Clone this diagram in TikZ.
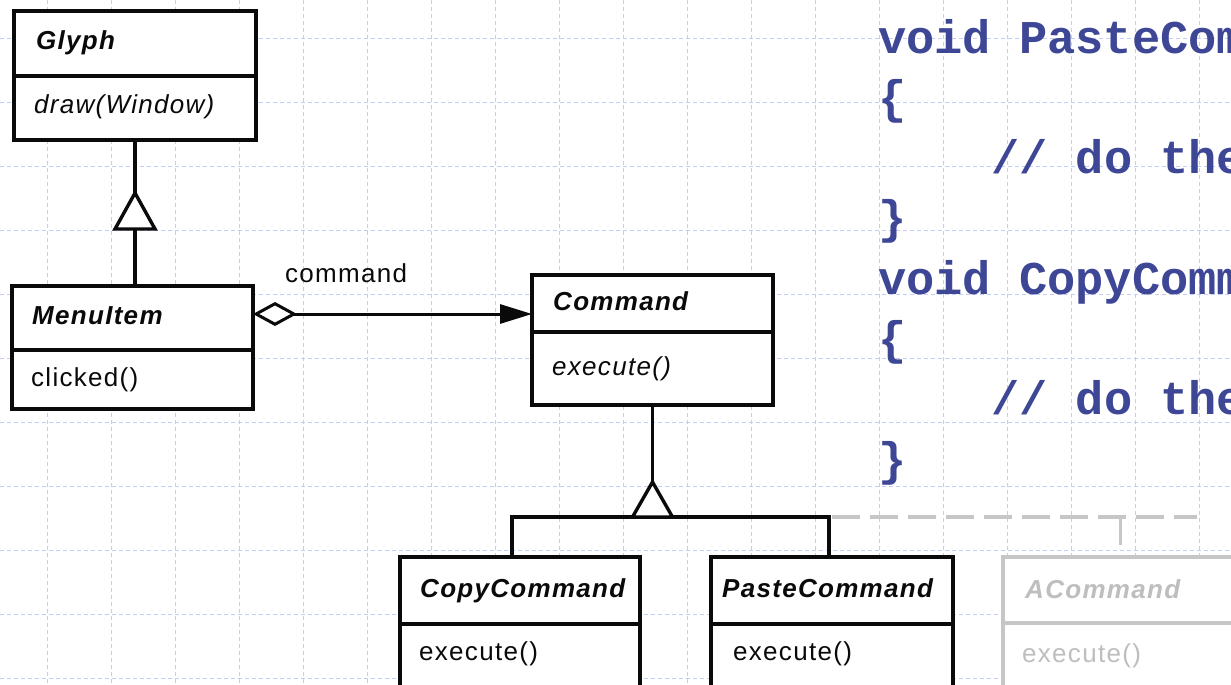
\documentclass[tikz,border=0pt]{standalone}
\usepackage{fontspec}
\usetikzlibrary{arrows.meta}
\newfontfamily\umlfont{Liberation Sans}[LetterSpace=5]
\newfontfamily\codefont{Liberation Mono}
\definecolor{gridblue}{RGB}{196,204,250}
\definecolor{codeblue}{RGB}{62,70,150}
\definecolor{ghostline}{RGB}{198,198,198}
\definecolor{ghosttext}{RGB}{190,190,190}
\definecolor{ink}{RGB}{10,10,10}

\begin{document}
\begin{tikzpicture}[x=1pt,y=-1pt,
  gridline/.style={draw=gridblue,line width=0.9pt,dash pattern=on 4pt off 3pt},
  classbox/.style={draw=ink,line width=3.4pt,fill=white,rectangle,anchor=north west,
    inner sep=0pt,outer sep=0pt},
  ghostbox/.style={classbox,draw=ghostline},
  divider/.style={draw=ink,line width=3.4pt},
  ghostdivider/.style={draw=ghostline,line width=3.4pt},
  umltext/.style={anchor=base west,inner sep=0pt,text=ink,
    font=\umlfont\fontsize{26}{30}\selectfont},
  classname/.style={umltext,font=\umlfont\fontsize{26}{30}\selectfont\bfseries\itshape},
  absop/.style={umltext,font=\umlfont\fontsize{26}{30}\selectfont\itshape},
  ghostname/.style={classname,text=ghosttext},
  ghostop/.style={umltext,text=ghosttext},
  codeline/.style={anchor=base west,inner sep=0pt,text=codeblue,
    font=\codefont\bfseries\fontsize{47}{56}\selectfont},
  link/.style={draw=ink,line width=3.4pt},
  generalize/.style={draw=ink,line width=3.4pt,fill=white,line join=miter},
  assoc/.style={draw=ink,line width=3pt,
    {Diamond[open,length=44pt,width=24pt]}-{Triangle[length=32pt,width=19pt]}},
  ghostdash/.style={draw=ghostline,line width=4pt,dash pattern=on 28pt off 10pt}
]
\useasboundingbox (0,0) rectangle (1231,685);
\clip (0,0) rectangle (1231,685);
\fill[white] (0,0) rectangle (1231,685);

% background grid
\foreach \gx in {47,111,...,1199}
  \draw[gridline] (\gx,0) -- (\gx,685);
\foreach \gy in {38,102,...,678}
  \draw[gridline] (0,\gy) -- (1231,\gy);

% code listing
\node[codeline] (code1) at (878,53)    {void PasteCom};
\node[codeline] (code2) at (878,113.3) {\{};
\node[codeline] (code3) at (991,173.6) {// do the};
\node[codeline] (code4) at (878,233.9) {\}};
\node[codeline] (code5) at (878,294.2) {void CopyComm};
\node[codeline] (code6) at (878,354.5) {\{};
\node[codeline] (code7) at (991,414.8) {// do the};
\node[codeline] (code8) at (878,475)   {\}};

% class boxes
\node[classbox,minimum width=242pt,minimum height=129pt] (glyph) at (14,11) {};
\node[classbox,minimum width=241pt,minimum height=123pt] (menuitem) at (12,286) {};
\node[classbox,minimum width=241pt,minimum height=130pt] (command) at (532,275) {};
\node[classbox,minimum width=240pt,minimum height=140pt] (copycmd) at (400,557) {};
\node[classbox,minimum width=242pt,minimum height=140pt] (pastecmd) at (711,557) {};
\node[ghostbox,minimum width=260pt,minimum height=140pt] (acmd) at (1003,557) {};

% compartment dividers
\draw[divider] ([yshift=-65pt]glyph.north west) -- ([yshift=-65pt]glyph.north east);
\draw[divider] ([yshift=-64pt]menuitem.north west) -- ([yshift=-64pt]menuitem.north east);
\draw[divider] ([yshift=-57pt]command.north west) -- ([yshift=-57pt]command.north east);
\draw[divider] ([yshift=-67pt]copycmd.north west) -- ([yshift=-67pt]copycmd.north east);
\draw[divider] ([yshift=-67pt]pastecmd.north west) -- ([yshift=-67pt]pastecmd.north east);
\draw[ghostdivider] ([yshift=-66pt]acmd.north west) -- ([yshift=-66pt]acmd.north east);

% class names and operations
\node[classname] (glyph-name) at (36,50) {Glyph};
\node[absop] (glyph-op) at (34,113) {draw(Window)};
\node[classname] (menuitem-name) at (32,324) {MenuItem};
\node[umltext] (menuitem-op) at (31,386) {clicked()};
\node[classname] (command-name) at (553,310) {Command};
\node[absop] (command-op) at (552,375) {execute()};
\node[classname] (copycmd-name) at (420,597) {CopyCommand};
\node[umltext] (copycmd-op) at (419,660) {execute()};
\node[classname] (pastecmd-name) at (722,597) {PasteCommand};
\node[umltext] (pastecmd-op) at (733,660) {execute()};
\node[ghostname] (acmd-name) at (1025,598) {ACommand};
\node[ghostop] (acmd-op) at (1022,662) {execute()};

% Glyph <|-- MenuItem
\coordinate (glyph-apex) at (135,193);
\draw[link] (glyph.south) -- (glyph.south |- menuitem.north);
\draw[generalize] (glyph-apex) -- ++(20,36) -- ++(-40,0) -- cycle;

% MenuItem <>-- command --> Command
\coordinate (assoc-y) at (0,314);
\draw[assoc] (menuitem.east |- assoc-y) -- (command.west |- assoc-y);
\node[umltext] (assoc-label) at (285,282) {command};

% Command <|-- CopyCommand, PasteCommand
\coordinate (cmd-apex) at (652.5,482);
\coordinate (j1) at (512,517);
\coordinate (j2) at (829,517);
\draw[link] (command.south) -- (cmd-apex);
\draw[link] (copycmd.north -| j1) -- (j1) -- (j2) -- (pastecmd.north -| j2);
\draw[generalize] (cmd-apex) -- ++(20,35) -- ++(-40,0) -- cycle;

% further subclasses, shown faded
\coordinate (ghost-end) at (1197,517);
\coordinate (ghost-drop) at (1120,517);
\draw[ghostdash] ([xshift=3pt]j2) -- (ghost-end);
\draw[ghostdash,line width=3pt] (ghost-drop) -- (ghost-drop |- acmd.north);
\end{tikzpicture}
\end{document}
